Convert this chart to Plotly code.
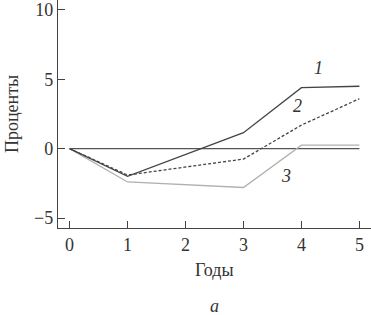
import plotly.graph_objects as go

years = [0, 1, 3, 4, 5]
line1 = [0, -2.0, 1.15, 4.4, 4.5]
line2 = [0, -1.9, -0.75, 1.7, 3.6]
line3 = [0, -2.4, -2.8, 0.25, 0.25]
zero_x = [0, 5]
zero_y = [0, 0]
x_ticks = [0, 1, 2, 3, 4, 5]
y_ticks = [-5, 0, 5, 10]

font = "Liberation Serif"
fig = go.Figure()
fig.add_trace(go.Scatter(x=zero_x, y=zero_y, mode="lines", line=dict(color="#555", width=1.3)))
fig.add_trace(go.Scatter(x=years, y=line3, mode="lines", line=dict(color="#b0b0b0", width=1.3)))
fig.add_trace(go.Scatter(x=years, y=line2, mode="lines", line=dict(color="#444", width=1.3, dash="3px,2px")))
fig.add_trace(go.Scatter(x=years, y=line1, mode="lines", line=dict(color="#444", width=1.3)))

for txt, x, y in [("1", 4.3, 5.8), ("2", 3.93, 3.1), ("3", 3.73, -2.0)]:
    fig.add_annotation(x=x, y=y, text="<i>" + txt + "</i>", showarrow=False,
                       font=dict(family=font, size=18, color="#333"))

fig.add_annotation(x=0.5, xref="paper", y=-0.184, yref="paper", text="Годы",
                   showarrow=False, yanchor="middle",
                   font=dict(family=font, size=18, color="#333"))
fig.add_annotation(x=0.5, xref="paper", y=-0.34, yref="paper", text="<i>а</i>",
                   showarrow=False, yanchor="middle",
                   font=dict(family=font, size=18, color="#333"))
fig.add_annotation(x=-58, xref="paper", xshift=0, y=0.56, yref="paper",
                   text="Проценты", showarrow=False, textangle=-90,
                   font=dict(family=font, size=18, color="#333"), visible=False)

fig.update_layout(
    width=371, height=315,
    margin=dict(l=58, r=0, t=0, b=87),
    paper_bgcolor="white", plot_bgcolor="white",
    showlegend=False,
    font=dict(family=font, size=18, color="#333"),
    xaxis=dict(range=[-0.2, 5.2], tickvals=x_ticks, ticktext=[str(v) for v in x_ticks],
               ticks="inside", ticklen=7,
               tickcolor="#444", showline=True, linecolor="#444", linewidth=1.3,
               showgrid=False, zeroline=False,
               tickfont=dict(family=font, size=18, color="#333")),
    yaxis=dict(range=[-5.72, 10.72], tickvals=y_ticks,
               ticktext=[str(v).replace("-", "\u2212") for v in y_ticks],
               ticks="inside", ticklen=7,
               tickcolor="#444", showline=True, linecolor="#444", linewidth=1.3,
               showgrid=False, zeroline=False,
               title=dict(text="Проценты", font=dict(family=font, size=18, color="#333"), standoff=10),
               tickfont=dict(family=font, size=18, color="#333")),
)
fig.write_html("out.html")
